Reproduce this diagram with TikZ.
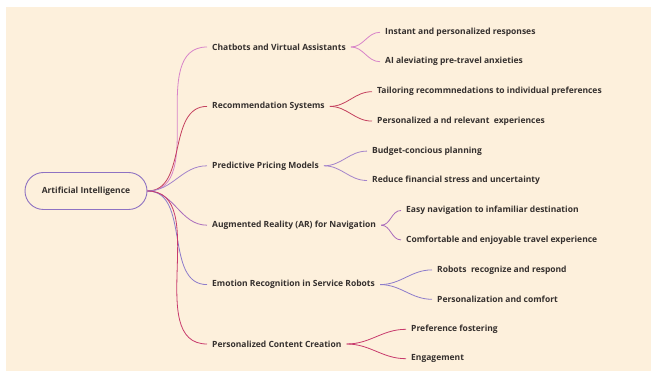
\documentclass[tikz,border=0pt]{standalone}
\usepackage{fontspec}
\setmainfont{Open Sans}
\usepackage{xcolor}
\usepackage{tikz}
\usetikzlibrary{
    shapes.misc,
    backgrounds,
}

\definecolor{paper}{HTML}{FDF0DC}
\definecolor{ink}{HTML}{35302E}
\definecolor{rootEdge}{HTML}{8E72C2}
\definecolor{chatCol}{HTML}{D884C9}
\definecolor{recoCol}{HTML}{C4405E}
\definecolor{pricCol}{HTML}{A383CB}
\definecolor{augmCol}{HTML}{A96CBC}
\definecolor{emotCol}{HTML}{8D7CCB}
\definecolor{contCol}{HTML}{C83A6C}

\begin{document}
\begin{tikzpicture}[x=1pt,y=-1pt]

    \tikzstyle{commonNode}=[font=\fontsize{8.5}{10}\selectfont\bfseries, text=ink, inner xsep=5pt, inner ysep=2pt]
    \tikzstyle{topic}=[commonNode, rounded rectangle, draw=rootEdge, line width=0.9pt, minimum width=132pt, minimum height=37pt]
    \tikzstyle{branch}=[commonNode, anchor=west]
    \tikzstyle{leaf}=[commonNode, anchor=west]
    \tikzstyle{wire}=[line width=0.8pt, out=180, in=0]

    % Page and background
    \useasboundingbox (0,0) rectangle (651,371);
    \fill[paper] (6,7) rectangle (651,371);

    \begin{scope}
        % Spacing the rows out
        \def \vspacing {59.4}
        \def \spread {14.7}
        \def \toprow {47}

        % Centre topic
        \node at (86,191) [topic] (AI) {Artificial Intelligence};

        % Main branches
        \node at (207, \toprow+0*\vspacing) [branch] (CB) {Chatbots and Virtual Assistants}
            edge [wire, draw=chatCol] (AI);
        \node at (207, \toprow+1*\vspacing) [branch] (RS) {Recommendation Systems}
            edge [wire, draw=recoCol] (AI);
        \node at (207, \toprow+2*\vspacing) [branch] (PP) {Predictive Pricing Models}
            edge [wire, draw=pricCol] (AI);
        \node at (207, \toprow+3*\vspacing) [branch] (AR) {Augmented Reality (AR) for Navigation}
            edge [wire, draw=augmCol] (AI);
        \node at (207, \toprow+4*\vspacing) [branch] (ER) {Emotion Recognition in Service Robots}
            edge [wire, draw=emotCol] (AI);
        \node at (207, \toprow+5*\vspacing) [branch] (PC) {Personalized Content Creation}
            edge [wire, draw=contCol] (AI);

        % Leaves of each branch
        \node at (380, \toprow+0*\vspacing-\spread) [leaf] (CB1) {Instant and personalized responses}
            edge [wire, draw=chatCol] (CB);
        \node at (380, \toprow+0*\vspacing+\spread) [leaf] (CB2) {AI aleviating pre-travel anxieties}
            edge [wire, draw=chatCol] (CB);

        \node at (372, \toprow+1*\vspacing-\spread) [leaf] (RS1) {Tailoring recommnedations to individual preferences}
            edge [wire, draw=recoCol] (RS);
        \node at (372, \toprow+1*\vspacing+\spread) [leaf] (RS2) {Personalized a nd relevant\ \ experiences}
            edge [wire, draw=recoCol] (RS);

        \node at (367, \toprow+2*\vspacing-\spread) [leaf] (PP1) {Budget-concious planning}
            edge [wire, draw=pricCol] (PP);
        \node at (367, \toprow+2*\vspacing+\spread) [leaf] (PP2) {Reduce financial stress and uncertainty}
            edge [wire, draw=pricCol] (PP);

        \node at (401, \toprow+3*\vspacing-\spread) [leaf] (AR1) {Easy navigation to infamiliar destination}
            edge [wire, draw=augmCol] (AR);
        \node at (401, \toprow+3*\vspacing+\spread) [leaf] (AR2) {Comfortable and enjoyable travel experience}
            edge [wire, draw=augmCol] (AR);

        \node at (432, \toprow+4*\vspacing-\spread) [leaf] (ER1) {Robots\ \ recognize and respond}
            edge [wire, draw=emotCol] (ER);
        \node at (432, \toprow+4*\vspacing+\spread) [leaf] (ER2) {Personalization and comfort}
            edge [wire, draw=emotCol] (ER);

        \node at (406, \toprow+5*\vspacing-\spread) [leaf] (PC1) {Preference fostering}
            edge [wire, draw=contCol] (PC);
        \node at (406, \toprow+5*\vspacing+\spread) [leaf] (PC2) {Engagement}
            edge [wire, draw=contCol] (PC);
    \end{scope}

\end{tikzpicture}
\end{document}
